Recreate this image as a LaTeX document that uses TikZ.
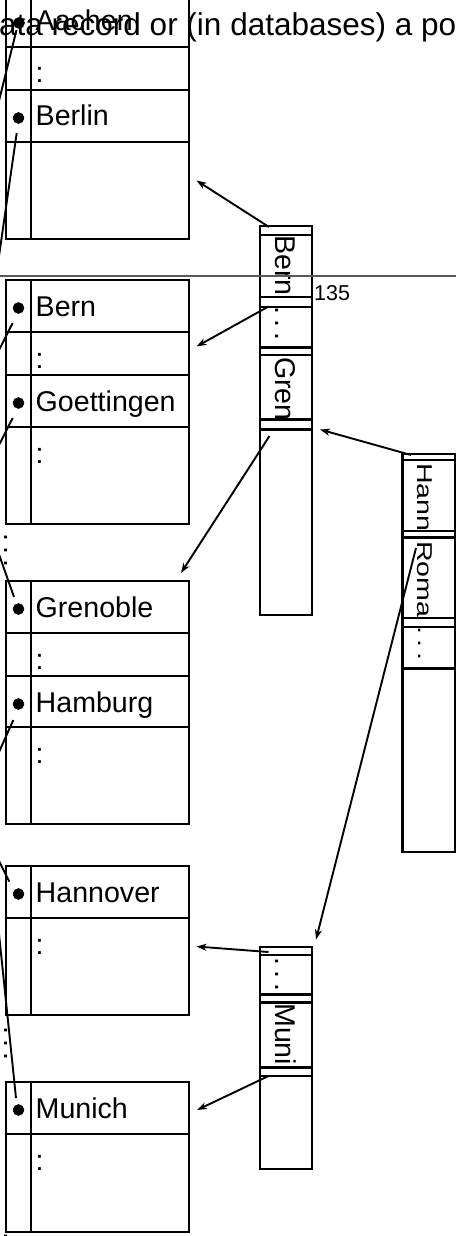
\documentclass[tikz,border=0pt]{standalone}
\usepackage{fontspec}
\usepackage{graphicx}
\setmainfont{Liberation Sans}
\usetikzlibrary{arrows.meta}
\newcommand{\vdotsrow}{.\kern5pt.\kern5pt.}
\begin{document}
\begin{tikzpicture}[x=1pt,y=-1pt,
  lf/.style={line width=2.3pt},
  sep/.style={line width=1.6pt},
  sepT/.style={line width=3pt},
  lbl/.style={anchor=base west,inner sep=0pt,font=\fontsize{28.6}{34}\selectfont},
  vlbl/.style={lbl,rotate=-90},
  bul/.style={circle,fill=black,draw=black,line width=0.5pt,inner sep=0pt,minimum size=11pt},
  ptr/.style={line width=1.9pt},
  arr/.style={line width=1.9pt,-{Stealth[length=10pt,width=7pt,inset=3pt]}}
]
\useasboundingbox (0,0) rectangle (456,1236);
\clip (0,0) rectangle (456,1236);

% ---------- leaf 1 ----------
\draw[lf] (6,-5) rectangle (189,239);
\draw[lf] (31,-5) -- (31,239);
\foreach \yy in {47,90,142} \draw[lf] (6,\yy) -- (189,\yy);
\node[lbl] (aachen) at (35.5,31) {Aachen};
\node[lbl] (c11) at (35.5,83) {:};
\node[lbl] (berlin) at (35.5,126) {Berlin};
\node[bul] (b11) at (19,23) {};
\node[bul] (b12) at (18.5,118) {};

% ---------- leaf 2 ----------
\draw[lf] (6,280) rectangle (189,524);
\draw[lf] (31,280) -- (31,524);
\foreach \yy in {332,375,427} \draw[lf] (6,\yy) -- (189,\yy);
\node[lbl] (bern) at (35.5,316.5) {Bern};
\node[lbl] (c21) at (35.5,368) {:};
\node[lbl] (goett) at (35.5,411) {Goettingen};
\node[lbl] (c22) at (35.5,463) {:};
\node[bul] (b21) at (18.5,308) {};
\node[bul] (b22) at (18.5,403) {};

% ---------- leaf 3 ----------
\draw[lf] (6,581) rectangle (189,824);
\draw[lf] (31,581) -- (31,824);
\foreach \yy in {633,676,727} \draw[lf] (6,\yy) -- (189,\yy);
\node[lbl] (gren) at (35.5,617) {Grenoble};
\node[lbl] (c31) at (35.5,669) {:};
\node[lbl] (hamb) at (35.5,712) {Hamburg};
\node[lbl] (c32) at (35.5,763) {:};
\node[bul] (b31) at (18.5,609) {};
\node[bul] (b32) at (18.5,704) {};

% ---------- leaf 4 ----------
\draw[lf] (6,866) rectangle (189,1015);
\draw[lf] (31,866) -- (31,1015);
\draw[lf] (6,918) -- (189,918);
\node[lbl] (hann) at (35.5,902) {Hannover};
\node[lbl] (c41) at (35.5,954) {:};
\node[bul] (b41) at (18.5,894) {};

% ---------- leaf 5 ----------
\draw[lf] (6,1082) rectangle (189,1232);
\draw[lf] (31,1082) -- (31,1232);
\draw[lf] (6,1134) -- (189,1134);
\node[lbl] (munich) at (35.5,1118) {Munich};
\node[lbl] (c51) at (35.5,1170) {:};
\node[bul] (b51) at (18.5,1110) {};

% ---------- dots between leaves ----------
\node[vlbl] (ld1) at (5,533) {\vdotsrow};
\node[vlbl] (ld2) at (5,1026) {\vdotsrow};
\node[vlbl] (ld3) at (5,1232) {\vdotsrow};

% ---------- leaf chain lines ----------
\coordinate (l1s) at (16.5,30);  \coordinate (l1e) at (-5,117);
\coordinate (l2s) at (16.7,133); \coordinate (l2e) at (-2,263);
\coordinate (l3s) at (12.7,323); \coordinate (l3e) at (-5,358);
\coordinate (l4s) at (12.7,418); \coordinate (l4e) at (-5,453);
\coordinate (l5s) at (-5,543);   \coordinate (l5e) at (14,597);
\coordinate (l6s) at (13.3,720); \coordinate (l6e) at (-5,761);
\coordinate (l7s) at (-5,853);   \coordinate (l7e) at (9.3,881.7);
\coordinate (l8s) at (-1,934);   \coordinate (l8e) at (16,1098);
\foreach \a/\b in {l1s/l1e,l2s/l2e,l3s/l3e,l4s/l4e,l5s/l5e,l6s/l6e,l7s/l7e,l8s/l8e}
  \draw[ptr] (\a) -- (\b);

% ---------- inner node 1 ----------
\draw[lf] (260,226) rectangle (312,615);
\foreach \yy in {235,297,307,355} \draw[sep] (260,\yy) -- (312,\yy);
\foreach \yy in {347,419,429} \draw[sepT] (260,\yy) -- (312,\yy);
\node[vlbl] (k11) at (275,235) {Bern};
\node[vlbl] (k12) at (275,306) {\vdotsrow};
\node[vlbl] (k13) at (275,357) {Gren};

% ---------- inner node 2 ----------
\draw[lf] (402.5,454) rectangle (455,852);
\foreach \yy in {460,531,618,627} \draw[sep] (402.5,\yy) -- (455,\yy);
\foreach \yy in {537,668} \draw[sepT] (402.5,\yy) -- (455,\yy);
\node[vlbl] (k21) at (417.5,463) {\scalebox{1}[0.75]{Hann}};
\node[vlbl] (k22) at (417.5,541) {\scalebox{1}[0.75]{Roma}};
\node[vlbl] (k23) at (418.5,626) {\scalebox{1}[0.75]{\vdotsrow}};

% ---------- inner node 3 ----------
\draw[lf] (260,947) rectangle (312,1169);
\foreach \yy in {955,1076} \draw[sep] (260,\yy) -- (312,\yy);
\foreach \yy in {994,1002,1067} \draw[sepT] (260,\yy) -- (312,\yy);
\node[vlbl] (k31) at (275,957) {\vdotsrow};
\node[vlbl] (k32) at (275,1003) {Muni};

% ---------- arrows ----------
\coordinate (a1s) at (269,227);    \coordinate (a1e) at (196.5,180.5);
\coordinate (a2s) at (268.5,306.5);\coordinate (a2e) at (196.5,346.5);
\coordinate (a3s) at (269.5,436);  \coordinate (a3e) at (181,573);
\coordinate (a4s) at (411,455);    \coordinate (a4e) at (320,429.5);
\coordinate (a5s) at (416,548);    \coordinate (a5e) at (316,939.5);
\coordinate (a6s) at (268.5,952);  \coordinate (a6e) at (196.5,946.5);
\coordinate (a7s) at (268.5,1076); \coordinate (a7e) at (197,1110);
\foreach \a/\b in {a1s/a1e,a2s/a2e,a3s/a3e,a4s/a4e,a5s/a5e,a6s/a6e,a7s/a7e}
  \draw[arr] (\a) -- (\b);

% ---------- page overlay ----------
\node[anchor=base west,inner sep=0pt,font=\fontsize{31.5}{36}\selectfont] (pagetext) at (-1,36) {ata record or (in databases) a po};
\coordinate (rl) at (0,276); \coordinate (rr) at (456,276);
\draw[line width=1.2pt,black!65] (rl) -- (rr);
\node[anchor=base west,inner sep=0pt,font=\fontsize{21.5}{25}\selectfont] (pnum) at (314,300) {135};
\end{tikzpicture}
\end{document}
